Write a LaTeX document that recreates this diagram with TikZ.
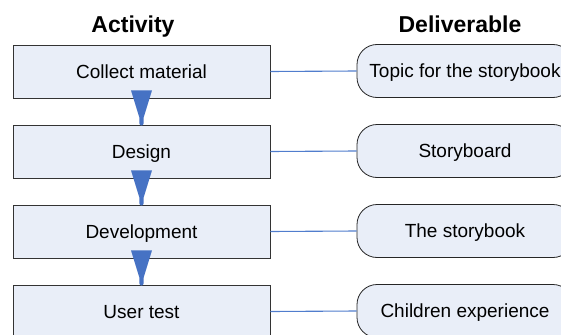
\documentclass[tikz,border=0pt]{standalone}
\usepackage{fontspec}
\setmainfont{Liberation Sans}
\definecolor{boxfill}{RGB}{233,238,248}
\definecolor{flowblue}{RGB}{70,114,196}
\definecolor{linkblue}{RGB}{80,125,205}
\begin{document}
\begin{tikzpicture}[x=1pt, y=-1pt,
  act node/.style={rectangle,draw=black!80,fill=boxfill,line width=0.8pt,minimum width=257pt,minimum height=53pt,inner sep=0pt,text height=13.6pt,text depth=0pt,font=\fontsize{19}{22}\selectfont},
  del node/.style={rectangle,rounded corners=20pt,draw=black!85,fill=boxfill,line width=0.8pt,minimum width=216pt,minimum height=53pt,inner sep=0pt,text height=13.6pt,text depth=0pt,font=\fontsize{19}{22}\selectfont},
  head/.style={anchor=base,font=\fontsize{23}{26}\selectfont\bfseries},
  link/.style={draw=linkblue,line width=1.1pt},
  flow/.style={fill=flowblue}]
\useasboundingbox (0,0) rectangle (561,334);
\node[head] (hact) at (133,33) {Activity};
\node[head] (hdel) at (460,33) {Deliverable};
%activities
\node[act node] (a1) at (141.5,71.5) {Collect material};
\node[act node] (a2) at (141.5,151.5) {Design};
\node[act node] (a3) at (141.5,231.5) {Development};
\node[act node] (a4) at (141.5,311.5) {User test};
%deliverables
\node[del node] (d1) at (465,71) {Topic for the storybook};
\node[del node] (d2) at (465,151) {Storyboard};
\node[del node] (d3) at (465,231) {The storybook};
\node[del node] (d4) at (465,311) {Children experience};
\begin{scope}[every path/.style={link}]
\draw (a1.east) -- (d1.west);
\draw (a2.east) -- (d2.west);
\draw (a3.east) -- (d3.west);
\draw (a4.east) -- (d4.west);
\end{scope}
%flow arrows
\fill[flow] ([shift={(-10.5pt,8pt)}]a1.south) -- ([shift={(10.5pt,8pt)}]a1.south) -- ([shift={(2.2pt,-19pt)}]a1.south) -- ([shift={(2pt,1pt)}]a2.north) arc[start angle=0,end angle=-180,radius=2pt] -- ([shift={(-2.2pt,-19pt)}]a1.south) -- cycle;
\fill[flow] ([shift={(-10.5pt,8pt)}]a2.south) -- ([shift={(10.5pt,8pt)}]a2.south) -- ([shift={(2.2pt,-19pt)}]a2.south) -- ([shift={(2pt,1pt)}]a3.north) arc[start angle=0,end angle=-180,radius=2pt] -- ([shift={(-2.2pt,-19pt)}]a2.south) -- cycle;
\fill[flow] ([shift={(-10.5pt,8pt)}]a3.south) -- ([shift={(10.5pt,8pt)}]a3.south) -- ([shift={(2.2pt,-19pt)}]a3.south) -- ([shift={(2pt,1pt)}]a4.north) arc[start angle=0,end angle=-180,radius=2pt] -- ([shift={(-2.2pt,-19pt)}]a3.south) -- cycle;
\end{tikzpicture}
\end{document}
